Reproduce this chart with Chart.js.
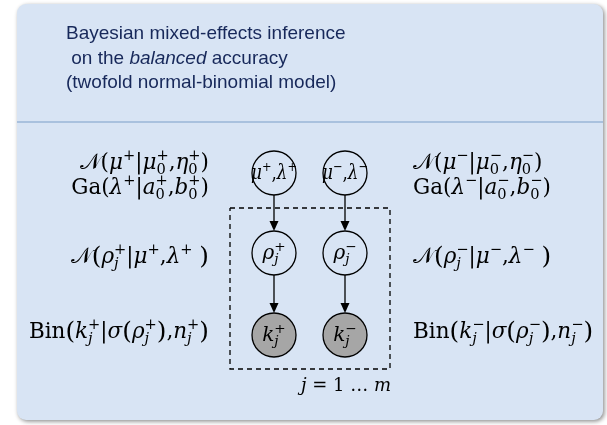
<!DOCTYPE html>
<html lang="en">
<head>
    <meta charset="UTF-8">
    <title>Twofold normal-binomial model</title>
    <script src="https://cdn.jsdelivr.net/npm/chart.js"></script>
    <style>
        body { margin: 0; background: #ffffff; }
        #wrap { width: 607px; height: 425px; }
    </style>
</head>
<body>
    <div id="wrap"><canvas id="graphChart" width="607" height="425"></canvas></div>

    <script>
        // diagram data (units = pixels of the 607x425 frame)
        var titleLines = [
            [['Bayesian mixed-effects inference', false]],
            [[' on the ', false], ['balanced', true], [' accuracy', false]],
            [['(twofold normal-binomial model)', false]]
        ];
        var titleX = 66;
        var titleY = [39, 64, 88];

        var nodeX = [274, 345, 274, 345, 274, 345];
        var nodeY = [173, 173, 253, 253, 335, 335];
        var nodeLabels = ['μ^{+},λ^{+}', 'μ^{−},λ^{−}', 'ρ_{j}^{+}', 'ρ_{j}^{−}', 'k_{j}^{+}', 'k_{j}^{−}'];
        var nodeObserved = [false, false, false, false, true, true];
        var edges = [[0, 2], [1, 3], [2, 4], [3, 5]];

        var plateX = [230, 390];
        var plateY = [208, 369];
        var plateLabel = 'j = 1 … m';
        var plateLabelPos = [346, 391];

        // \b( = enlarged bracket
        var leftLabels = [
            '𝒩(μ^{+}|μ_{0}^{+},η_{0}^{+})',
            '\\rm{Ga}(λ^{+}|a_{0}^{+},b_{0}^{+})',
            '𝒩\\b(ρ_{j}^{+}|μ^{+},λ^{+} \\b)',
            '\\rm{Bin}\\b(k_{j}^{+}|σ\\b(ρ_{j}^{+}\\b),n_{j}^{+}\\b)'
        ];
        var rightLabels = [
            '𝒩(μ^{−}|μ_{0}^{−},η_{0}^{−})',
            '\\rm{Ga}(λ^{−}|a_{0}^{−},b_{0}^{−})',
            '𝒩\\b(ρ_{j}^{−}|μ^{−},λ^{−} \\b)',
            '\\rm{Bin}\\b(k_{j}^{−}|σ\\b(ρ_{j}^{−}\\b),n_{j}^{−}\\b)'
        ];
        var labelY = [169, 194, 263, 338];
        var leftEdge = 209;
        var rightEdge = 413;

        var NODE_R = 22;
        var MATH_FONT = '"DejaVu Serif"';
        var NODE_SIZE = 20;
        var NODE_FIT = 46;
        var SIDE_SIZE = 21.5;
        var PLATE_SIZE = 18;

        // --- tiny math markup: \rm{..} upright, \b( big bracket, ^{..} sup, _{..} sub
        function parse(s) {
            var out = [], i = 0;
            while (i < s.length) {
                if (s.startsWith('\\rm{', i)) {
                    var j = s.indexOf('}', i);
                    out.push({ t: s.slice(i + 4, j), lvl: 0, rm: true });
                    i = j + 1; continue;
                }
                if (s.startsWith('\\b', i)) {
                    out.push({ t: s[i + 2], lvl: 0, big: true });
                    i += 3; continue;
                }
                var c = s[i];
                if (c === '^' || c === '_') {
                    var k = s.indexOf('}', i);
                    out.push({ t: s.slice(i + 2, k), lvl: c === '^' ? 1 : -1 });
                    i = k + 1; continue;
                }
                var ch = String.fromCodePoint(s.codePointAt(i));
                out.push({ t: ch, lvl: 0 });
                i += ch.length;
            }
            return out;
        }

        function isItalic(ch) { return /[a-zA-Zα-ω]/.test(ch); }

        function runText(ctx, text, size, rm, x, y, draw) {
            var w = 0;
            for (var ch of text) {
                ctx.font = ((!rm && isItalic(ch)) ? 'italic ' : '') + size + 'px ' + MATH_FONT;
                if (draw) ctx.fillText(ch, x + w, y);
                w += ctx.measureText(ch).width;
            }
            return w;
        }

        function mathLayout(ctx, s, x, y, size, draw) {
            var toks = parse(s), cx = x, small = size * 0.68;
            var scriptStart = null, scriptW = 0, prevLvl = 0;
            toks.forEach(function (tk) {
                if (tk.lvl === 0) {
                    scriptStart = null;
                    if (tk.big) {
                        cx += runText(ctx, tk.t, size * 1.15, true, cx, y + size * 0.06, draw);
                    } else {
                        cx += runText(ctx, tk.t, size, tk.rm, cx, y, draw);
                    }
                } else {
                    var dy = tk.lvl > 0 ? -size * 0.4 : size * 0.22;
                    if (scriptStart !== null && prevLvl !== tk.lvl) {
                        var w2 = runText(ctx, tk.t, small, false, scriptStart, y + dy, draw);
                        cx = scriptStart + Math.max(scriptW, w2);
                        scriptStart = null;
                    } else {
                        scriptStart = cx;
                        scriptW = runText(ctx, tk.t, small, false, cx, y + dy, draw);
                        cx += scriptW;
                    }
                }
                prevLvl = tk.lvl;
            });
            return cx - x;
        }

        var diagramPlugin = {
            id: 'diagram',
            beforeDraw: function (chart) {
                var ctx = chart.ctx, sx = chart.scales.x, sy = chart.scales.y;
                ctx.save();
                ctx.fillStyle = '#ffffff';
                ctx.fillRect(0, 0, chart.width, chart.height);
                // panel with shadow
                ctx.shadowColor = 'rgba(0,0,0,0.45)';
                ctx.shadowBlur = 4;
                ctx.shadowOffsetX = 1.5;
                ctx.shadowOffsetY = 1.5;
                ctx.fillStyle = '#d8e4f4';
                ctx.beginPath();
                var px0 = sx.getPixelForValue(17), py0 = sy.getPixelForValue(4);
                ctx.roundRect(px0, py0, sx.getPixelForValue(603) - px0, sy.getPixelForValue(420) - py0, 9);
                ctx.fill();
                ctx.shadowColor = 'transparent';
                // separator
                ctx.strokeStyle = '#a9c1de';
                ctx.lineWidth = 2;
                ctx.beginPath();
                ctx.moveTo(sx.getPixelForValue(17), sy.getPixelForValue(122));
                ctx.lineTo(sx.getPixelForValue(603), sy.getPixelForValue(122));
                ctx.stroke();
                // title
                ctx.fillStyle = '#17285a';
                ctx.textBaseline = 'alphabetic';
                titleLines.forEach(function (line, li) {
                    var x = sx.getPixelForValue(titleX);
                    line.forEach(function (part) {
                        ctx.font = (part[1] ? 'italic ' : '') + '19px "Liberation Sans", Arial, sans-serif';
                        ctx.fillText(part[0], x, sy.getPixelForValue(titleY[li]));
                        x += ctx.measureText(part[0]).width;
                    });
                });
                ctx.restore();
            },
            afterDatasetsDraw: function (chart) {
                var ctx = chart.ctx, sx = chart.scales.x, sy = chart.scales.y;
                ctx.save();
                ctx.fillStyle = '#000000';
                ctx.textBaseline = 'alphabetic';
                // arrowheads
                edges.forEach(function (e) {
                    var tx = sx.getPixelForValue(nodeX[e[1]]);
                    var ty = sy.getPixelForValue(nodeY[e[1]] - NODE_R);
                    ctx.beginPath();
                    ctx.moveTo(tx, ty);
                    ctx.lineTo(tx - 4.5, ty - 10);
                    ctx.lineTo(tx + 4.5, ty - 10);
                    ctx.closePath();
                    ctx.fill();
                });
                // node labels: squeeze wide ones horizontally, then shrink if still too wide
                nodeLabels.forEach(function (lab, i) {
                    var size = NODE_SIZE;
                    var w = mathLayout(ctx, lab, 0, 0, size, false);
                    var squeeze = 1;
                    if (w > NODE_FIT) {
                        squeeze = Math.max(0.8, NODE_FIT / w);
                        if (w * squeeze > NODE_FIT) {
                            size = size * NODE_FIT / (w * squeeze);
                            w = mathLayout(ctx, lab, 0, 0, size, false);
                        }
                    }
                    var cx = sx.getPixelForValue(nodeX[i]);
                    ctx.save();
                    ctx.translate(cx, 0);
                    ctx.scale(squeeze, 1);
                    mathLayout(ctx, lab, -w / 2, sy.getPixelForValue(nodeY[i]) + size * 0.3, size, true);
                    ctx.restore();
                });
                // side formulas
                leftLabels.forEach(function (lab, i) {
                    var w = mathLayout(ctx, lab, 0, 0, SIDE_SIZE, false);
                    mathLayout(ctx, lab, sx.getPixelForValue(leftEdge) - w,
                        sy.getPixelForValue(labelY[i]), SIDE_SIZE, true);
                });
                rightLabels.forEach(function (lab, i) {
                    mathLayout(ctx, lab, sx.getPixelForValue(rightEdge),
                        sy.getPixelForValue(labelY[i]), SIDE_SIZE, true);
                });
                // plate label
                var pw = mathLayout(ctx, plateLabel, 0, 0, PLATE_SIZE, false);
                mathLayout(ctx, plateLabel, sx.getPixelForValue(plateLabelPos[0]) - pw / 2,
                    sy.getPixelForValue(plateLabelPos[1]), PLATE_SIZE, true);
                ctx.restore();
            }
        };

        var datasets = [];
        // plate (dashed rectangle)
        datasets.push({
            type: 'line',
            data: [
                { x: plateX[0], y: plateY[0] }, { x: plateX[1], y: plateY[0] },
                { x: plateX[1], y: plateY[1] }, { x: plateX[0], y: plateY[1] },
                { x: plateX[0], y: plateY[0] }
            ],
            borderColor: '#000000',
            borderWidth: 1.3,
            borderDash: [5, 4],
            pointRadius: 0,
            tension: 0,
            fill: false
        });
        // edges
        edges.forEach(function (e) {
            datasets.push({
                type: 'line',
                data: [
                    { x: nodeX[e[0]], y: nodeY[e[0]] + NODE_R },
                    { x: nodeX[e[1]], y: nodeY[e[1]] - NODE_R - 6 }
                ],
                borderColor: '#000000',
                borderWidth: 1.3,
                pointRadius: 0,
                fill: false
            });
        });
        // nodes
        datasets.push({
            type: 'scatter',
            data: nodeX.map(function (x, i) { return { x: x, y: nodeY[i] }; }),
            pointRadius: NODE_R,
            pointHoverRadius: NODE_R,
            pointBorderWidth: 1.3,
            pointBorderColor: '#000000',
            pointBackgroundColor: nodeObserved.map(function (o) { return o ? '#a6a6a6' : 'rgba(0,0,0,0)'; })
        });

        var ctx = document.getElementById('graphChart').getContext('2d');
        var chart = new Chart(ctx, {
            type: 'scatter',
            data: { datasets: datasets },
            options: {
                responsive: false,
                devicePixelRatio: 1,
                animation: false,
                layout: { padding: 0, autoPadding: false },
                clip: false,
                plugins: { legend: { display: false }, tooltip: { enabled: false } },
                events: [],
                scales: {
                    x: { type: 'linear', min: 0, max: 607, display: false },
                    y: { type: 'linear', min: 0, max: 425, reverse: true, display: false }
                }
            },
            plugins: [diagramPlugin]
        });
    </script>
</body>
</html>
